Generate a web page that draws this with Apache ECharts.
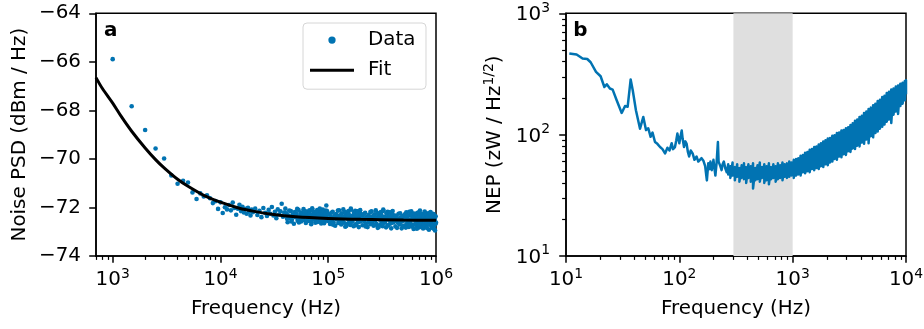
<!DOCTYPE html>
<html><head><meta charset="utf-8">
<script src="https://cdn.jsdelivr.net/npm/echarts@6/dist/echarts.min.js"></script>
<style>html,body{margin:0;padding:0;background:#fff}#c{width:924px;height:329px}</style>
</head><body><div id="c"></div>
<script>
// ---------- Panel a: noise PSD (frequencies in kHz) ----------
const psdFreqA = [1,1.5,2,2.5,3,3.5,4,4.5,5,5.5,6,6.5,7,7.5,8,8.5,9,9.5,10];
const psdValA = [-65.89,-67.83,-68.81,-69.57,-69.98,-70.68,-71.02,-70.90,-70.97,-71.38,-71.65,-71.42,-71.55,-71.50,-71.62,-71.82,-71.74,-72.06,-71.79];
const psdFreqB = [10.5,11,11.5,12,12.5,13,13.5,14,14.5,15,15.5,16,16.5,17,17.5,18,18.5,19,19.5,20];
const psdValB = [-72.23,-71.99,-72.08,-71.90,-72.12,-71.80,-72.02,-72.30,-72.05,-71.89,-72.15,-71.97,-72.21,-72.06,-72.26,-72.01,-72.17,-72.33,-72.09,-72.20];
const psdFreqC = [21,22,23,24,25,26,27,28,29,30,31,32,33,34,35,36,37,38,39,40];
const psdValC = [-72.05,-72.31,-72.14,-72.40,-72.02,-72.22,-72.35,-72.10,-72.26,-71.98,-72.33,-72.18,-72.44,-72.08,-72.29,-72.16,-71.85,-72.38,-72.21,-72.05];
const psdFreqD = [41,42,43,44,45,46,47,48,49,50,51,52,53,54,55,56,57,58,59,60,61,62,63,64,65,66,67,68,69,70,71,72,73,74,75,76,77,78,79,80,81,82,83,84,85,86,87,88,89,90,91,92,93,94,95,96,97,98,99,100];
const psdValD = [-72.24,-72.61,-72.33,-72.44,-72.15,-72.51,-72.30,-72.67,-72.19,-72.40,-72.27,-72.55,-72.10,-72.47,-72.35,-72.58,-72.22,-72.42,-72.07,-72.53,-72.31,-72.64,-72.25,-72.38,-72.17,-72.56,-72.12,-72.43,-72.34,-72.60,-72.03,-72.45,-72.26,-72.49,-72.32,-72.63,-72.18,-72.37,-72.11,-72.57,-72.28,-72.41,-72.14,-72.52,-72.29,-72.66,-72.23,-72.39,-72.09,-72.48,-72.36,-72.59,-72.20,-72.44,-72.13,-71.92,-72.31,-72.54,-72.27,-72.46];
const psdFreqD2 = [41.5,43.5,45.5,47.5,49.5,51.5,53.5,55.5,57.5,59.5,61.5,63.5,65.5,67.5,69.5,71.5,73.5,75.5,77.5,79.5,81.5,83.5,85.5,87.5,89.5,91.5,93.5,95.5,97.5,99.5];
const psdValD2 = [-72.47,-72.13,-72.58,-72.28,-72.39,-72.06,-72.62,-72.21,-72.50,-72.34,-72.16,-72.55,-72.43,-72.25,-72.69,-72.11,-72.37,-72.48,-72.20,-72.60,-72.30,-72.04,-72.53,-72.41,-72.18,-72.65,-72.27,-72.45,-72.15,-72.56];
const psdFreqE = [102,104,106,108,110,112,114,116,118,120,122,124,126,128,130,132,134,136,138,140,142,144,146,148,150,152,154,156,158,160,162,164,166,168,170,172,174,176,178,180,182,184,186,188,190,192,194,196,198,200];
const psdValE = [-72.29,-72.68,-72.40,-72.52,-72.18,-72.61,-72.35,-72.75,-72.27,-72.47,-72.33,-72.64,-72.12,-72.56,-72.42,-72.70,-72.24,-72.50,-72.08,-72.63,-72.37,-72.79,-72.31,-72.45,-72.21,-72.66,-72.15,-72.53,-72.41,-72.72,-72.05,-72.55,-72.34,-72.59,-72.39,-72.77,-72.20,-72.44,-72.14,-72.69,-72.35,-72.49,-72.17,-72.62,-72.36,-72.81,-72.28,-72.46,-72.11,-72.58];
const psdFreqE2 = [103,107,111,115,119,123,127,131,135,139,143,147,151,155,159,163,167,171,175,179,183,187,191,195,199];
const psdValE2 = [-72.56,-72.22,-72.71,-72.38,-72.48,-72.13,-72.63,-72.31,-72.54,-72.42,-72.19,-72.76,-72.35,-72.27,-72.66,-72.09,-72.51,-72.44,-72.24,-72.73,-72.33,-72.16,-72.60,-72.47,-72.26];
const psdFreqF = [204,208,212,216,220,224,228,232,236,240,244,248,252,256,260,264,268,272,276,280,284,288,292,296,300,304,308,312,316,320,324,328,332,336,340,344,348,352,356,360,364,368,372,376,380,384,388,392,396,400];
const psdValF = [-72.36,-72.73,-72.44,-72.57,-72.22,-72.66,-72.39,-72.81,-72.31,-72.51,-72.37,-72.69,-72.16,-72.60,-72.46,-72.75,-72.28,-72.54,-72.12,-72.67,-72.41,-72.84,-72.35,-72.49,-72.25,-72.70,-72.19,-72.57,-72.45,-72.77,-72.09,-72.59,-72.38,-72.63,-72.43,-72.82,-72.24,-72.48,-72.18,-72.73,-72.39,-72.53,-72.21,-72.66,-72.40,-72.86,-72.32,-72.50,-72.15,-72.62];
const psdFreqF2 = [206,214,222,230,238,246,254,262,270,278,286,294,302,310,318,326,334,342,350,358,366,374,382,390,398];
const psdValF2 = [-72.50,-72.27,-72.78,-72.41,-72.62,-72.19,-72.55,-72.34,-72.71,-72.46,-72.23,-72.80,-72.38,-72.29,-72.68,-72.14,-72.57,-72.48,-72.26,-72.74,-72.36,-72.20,-72.65,-72.52,-72.30];
const psdFreqG = [410,420,430,440,450,460,470,480,490,500,510,520,530,540,550,560,570,580,590,600,610,620,630,640,650,660,670,680,690,700,710,720,730,740,750,760,770,780,790,800,810,820,830,840,850,860,870,880,890,900,910,920,930,940,950,960,970,980,990,1000];
const psdValG = [-72.40,-72.78,-72.48,-72.61,-72.26,-72.70,-72.43,-72.86,-72.35,-72.55,-72.41,-72.74,-72.20,-72.64,-72.50,-72.80,-72.32,-72.58,-72.16,-72.72,-72.45,-72.89,-72.39,-72.53,-72.29,-72.75,-72.23,-72.61,-72.49,-72.82,-72.13,-72.63,-72.42,-72.68,-72.47,-72.87,-72.28,-72.52,-72.22,-72.78,-72.44,-72.57,-72.25,-72.71,-72.34,-72.92,-72.37,-72.59,-72.19,-72.67,-72.46,-72.84,-72.31,-72.55,-72.27,-72.74,-72.43,-72.95,-72.36,-72.62];
const psdFreqG2 = [415,425,435,445,455,465,475,485,495,505,515,525,535,545,555,565,575,585,595,605,615,625,635,645,655,665,675,685,695,705,715,725,735,745,755,765,775,785,795,805,815,825,835,845,855,865,875,885,895,905,915,925,935,945,955,965,975,985,995];
const psdValG2 = [-72.57,-72.33,-72.84,-72.45,-72.66,-72.24,-72.59,-72.38,-72.76,-72.51,-72.28,-72.83,-72.42,-72.34,-72.71,-72.18,-72.62,-72.49,-72.30,-72.79,-72.40,-72.25,-72.69,-72.55,-72.35,-72.88,-72.44,-72.21,-72.73,-72.47,-72.32,-72.64,-72.27,-72.81,-72.50,-72.38,-72.70,-72.17,-72.60,-72.46,-72.29,-72.85,-72.41,-72.36,-72.68,-72.23,-72.58,-72.52,-72.33,-72.77,-72.39,-72.26,-72.72,-72.48,-72.31,-72.90,-72.45,-72.37,-72.66];
// Fit curve (Hz, dBm/Hz)
const fitFreq = [700,800,1000,1200,1500,2000,2500,3000,4000,5000,7000,10000,15000,20000,30000,50000,100000,200000,500000,1000000];
const fitVal = [-66.65,-67.09,-67.70,-68.25,-68.86,-69.55,-70.03,-70.37,-70.84,-71.13,-71.50,-71.78,-72.03,-72.15,-72.28,-72.38,-72.45,-72.49,-72.52,-72.53];
// Tick values
const aMajorX = [1e3,1e4,1e5,1e6];
const aMinorX = [700,800,900,2000,3000,4000,5000,6000,7000,8000,9000,20000,30000,40000,50000,60000,70000,80000,90000,200000,300000,400000,500000,600000,700000,800000,900000];

// ---------- Panel b: NEP (Hz, zW/Hz^1/2) ----------
const nepLowFreq = [10.7,12.4,14.0,15.4,16.5,18.4,20.2,21.8,22.9,24.4,25.8,28.0,31.0,33.2,35.0,37.2,38.8,41.4,45.0,48.1,50.8,53.2,55.8,58.0,61.0,64.0,67.6,71.0,74.8,78.5,82.0,85.6,88.0,91.5,94.0,96.1,100,102,105,107,110,113,116,119,122,126,131,136,142,147,152,157,163,169,175,180,184,188,193,197,200,204,208,213,216,219,222,225,230,236,241,247,254,262];
const nepLowVal = [466,457,424,420,395,329,303,247,260,240,235,192,151,172,170,285,232,159,112,140,109,113,96,104,87,84,79,76,70,78,74,85,76,79,90,102,85,95,108,92,79,88,84,72,66,74,70,62,66,60,58,64,61,55,42,58,52,60,51,56,62,53,46,58,58,87,60,58,55,51,57,60,53,49];
const nepBandFreq = [270,282,295,309,324,339,355,372,389,407,427,447,468,490,513,537,562,589,617,646,676,708,741,776,813,851,891,933,977,1023,1072,1122,1175,1230,1288,1349,1413,1479,1549,1622,1698,1778,1862,1950,2042,2138,2239,2344,2455,2570,2692,2818,2951,3090,3236,3388,3548,3715,3890,4074,4266,4467,4677,4898,5129,5370,5623,5888,6166,6457,6761,7079,7413,7762,8128,8511,8913,9333,9772,10000];
const nepBandHi = [57,55,59,54,57,53,56,58,54,57,55,58,53,56,59,54,57,55,58,54,57,55,58,56,59,57,58,60,59,62,63,64,67,68,71,72,75,76,79,80,83,85,88,90,93,94,98,99,103,104,108,109,113,115,120,124,130,133,140,143,151,155,163,167,175,180,189,194,204,209,220,226,235,240,249,254,263,268,277,281];
const nepBandLo = [47,44,46,42,45,41,44,43,40,44,41,36,42,43,41,44,40,42,39,43,44,41,43,44,42,45,44,45,46,44,46,47,46,49,48,50,49,52,51,53,52,55,54,57,56,59,60,63,62,66,65,69,68,73,72,77,76,81,80,86,84,91,85,97,95,103,106,112,116,121,128,133,125,146,155,148,172,180,192,215];
const shadeRange = [300, 1000];
const bMajorX = [10,100,1000,10000];
const bMinorX = [20,30,40,50,60,70,80,90,200,300,400,500,600,700,800,900,2000,3000,4000,5000,6000,7000,8000,9000];
const bMajorY = [10,100,1000];
const bMinorY = [20,30,40,50,60,70,80,90,200,300,400,500,600,700,800,900];

// ---------- build ----------
const BLUE = '#0173b2';
const FONT = 'DejaVu Sans';
const FS = 19.9;
const SUP = 13.9;

const psdFreqK = [].concat(psdFreqA, psdFreqB, psdFreqC, psdFreqD, psdFreqD2, psdFreqE, psdFreqE2, psdFreqF, psdFreqF2, psdFreqG, psdFreqG2);
const psdVal = [].concat(psdValA, psdValB, psdValC, psdValD, psdValD2, psdValE, psdValE2, psdValF, psdValF2, psdValG, psdValG2);
const scatterData = psdFreqK.map((f, i) => [f * 1000, psdVal[i]]);
const fitData = fitFreq.map((f, i) => [f, fitVal[i]]);
const nepData = nepLowFreq.map((f, i) => [f, nepLowVal[i]]);
nepBandFreq.forEach((f, i) => { nepData.push([f, nepBandHi[i]]); nepData.push([f, nepBandLo[i]]); });

const pow10 = v => '{b|10}{s|' + Math.round(Math.log10(v)) + '}';
const xRich = {
  b: {fontSize: FS, fontFamily: FONT, color: '#000'},
  s: {fontSize: SUP, fontFamily: FONT, color: '#000', padding: [0, 0, 10.8, 0]}
};
const yRich = {
  b: {fontSize: FS, fontFamily: FONT, color: '#000', padding: [3.4, 0, 0, 0]},
  s: {fontSize: SUP, fontFamily: FONT, color: '#000', padding: [0, 0, 10.8, 0]}
};
const nameStyle = {fontSize: FS, fontFamily: FONT, color: '#000'};
const axisLine = {show: true, onZero: false, lineStyle: {color: '#000', width: 1.5}};
const majorTick = vals => ({show: true, customValues: vals, length: 6.8, lineStyle: {color: '#000', width: 1.5}});
const minorTick = vals => ({show: true, customValues: vals, length: 3.9, lineStyle: {color: '#000', width: 1.2}});

function minorAxis(grid, min, max, vals, pos) {
  return {gridIndex: grid, type: 'log', logBase: 10, min: min, max: max, position: pos,
    axisLine: {show: false, onZero: false}, axisLabel: {show: false}, splitLine: {show: false},
    axisTick: minorTick(vals)};
}

const option = {
  animation: false,
  backgroundColor: '#fff',
  textStyle: {fontFamily: FONT},
  grid: [
    {left: 96, top: 13.3, width: 340, height: 242.7, show: true, borderColor: '#000', borderWidth: 1.5, backgroundColor: 'transparent', containLabel: false, outerBoundsMode: 'none'},
    {left: 566, top: 13.3, width: 340, height: 242.7, show: true, borderColor: '#000', borderWidth: 1.5, backgroundColor: 'transparent', containLabel: false, outerBoundsMode: 'none'}
  ],
  xAxis: [
    {gridIndex: 0, type: 'log', logBase: 10, min: 700, max: 1e6, position: 'bottom',
      name: 'Frequency (Hz)', nameLocation: 'middle', nameGap: 43.2, nameTextStyle: nameStyle,
      axisLine: axisLine, axisTick: majorTick(aMajorX), splitLine: {show: false},
      axisLabel: {customValues: aMajorX, formatter: pow10, margin: 11.8, rich: xRich, color: '#000', fontSize: FS}},
    minorAxis(0, 700, 1e6, aMinorX, 'bottom'),
    {gridIndex: 1, type: 'log', logBase: 10, min: 10, max: 1e4, position: 'bottom',
      name: 'Frequency (Hz)', nameLocation: 'middle', nameGap: 43.2, nameTextStyle: nameStyle,
      axisLine: axisLine, axisTick: majorTick(bMajorX), splitLine: {show: false},
      axisLabel: {customValues: bMajorX, formatter: pow10, margin: 11.8, rich: xRich, color: '#000', fontSize: FS}},
    minorAxis(1, 10, 1e4, bMinorX, 'bottom')
  ],
  yAxis: [
    {gridIndex: 0, type: 'value', min: -74, max: -64, interval: 2, position: 'left',
      name: 'Noise PSD (dBm / Hz)', nameLocation: 'middle', nameGap: 66, nameTextStyle: nameStyle,
      axisLine: axisLine, axisTick: {show: true, length: 6.8, lineStyle: {color: '#000', width: 1.5}}, splitLine: {show: false},
      axisLabel: {formatter: v => (v < 0 ? '\u2212' + Math.abs(v) : String(v)), margin: 15, padding: [3.4, 0, 0, 0],
        color: '#000', fontSize: FS, fontFamily: FONT}},
    {gridIndex: 1, type: 'log', logBase: 10, min: 10, max: 1000, position: 'left',
      name: 'NEP (zW / Hz{s|1/2})', nameLocation: 'middle', nameGap: 59,
      nameTextStyle: {fontSize: FS, fontFamily: FONT, color: '#000', rich: {s: {fontSize: SUP, fontFamily: FONT, color: '#000', padding: [0, 0, 10.8, 0]}}},
      axisLine: axisLine, axisTick: majorTick(bMajorY), splitLine: {show: false},
      axisLabel: {customValues: bMajorY, formatter: pow10, margin: 16, rich: yRich, color: '#000', fontSize: FS}},
    {gridIndex: 1, type: 'log', logBase: 10, min: 10, max: 1000, position: 'left',
      axisLine: {show: false, onZero: false}, axisLabel: {show: false}, splitLine: {show: false},
      axisTick: minorTick(bMinorY)}
  ],
  legend: {
    left: 303, top: 23, orient: 'vertical',
    padding: [7.05, 10.5, 9.05, 7], itemWidth: 44, itemHeight: 7.3, itemGap: 10.1,
    borderColor: '#d6d6d6', borderWidth: 1, borderRadius: 4, backgroundColor: 'rgba(255,255,255,0.8)',
    textStyle: {fontSize: FS, fontFamily: FONT, color: '#000', padding: [0, 0, 0, 9]},
    data: [{name: 'Data', icon: 'circle'}, {name: 'Fit', icon: 'path://M0,0L44,0L44,3L0,3Z'}]
  },
  graphic: [
    {type: 'text', left: 104, top: 20.5, style: {text: 'a', font: 'bold 19.9px "DejaVu Sans"', fill: '#000'}},
    {type: 'text', left: 573.3, top: 20.5, style: {text: 'b', font: 'bold 19.9px "DejaVu Sans"', fill: '#000'}}
  ],
  series: [
    {name: 'Data', type: 'scatter', xAxisIndex: 0, yAxisIndex: 0, data: scatterData,
      symbol: 'circle', symbolSize: 4.6, itemStyle: {color: BLUE, opacity: 1}, z: 2, silent: true},
    {name: 'Fit', type: 'line', xAxisIndex: 0, yAxisIndex: 0, data: fitData, smooth: 0.3,
      symbol: 'none', lineStyle: {color: '#000', width: 3}, itemStyle: {color: '#000'}, z: 3, silent: true},
    {name: 'shade', type: 'line', xAxisIndex: 2, yAxisIndex: 1, data: [], z: 1, silent: true,
      markArea: {silent: true, itemStyle: {color: '#dfdfdf'}, data: [[{xAxis: shadeRange[0]}, {xAxis: shadeRange[1]}]]}},
    {name: 'NEP', type: 'line', xAxisIndex: 2, yAxisIndex: 1, data: nepData, symbol: 'none',
      lineStyle: {color: BLUE, width: 2.5, join: 'round'}, z: 2, silent: true}
  ]
};
const chart = echarts.init(document.getElementById('c'), null, {renderer: 'canvas'});
chart.setOption(option);
</script>
</body></html>
